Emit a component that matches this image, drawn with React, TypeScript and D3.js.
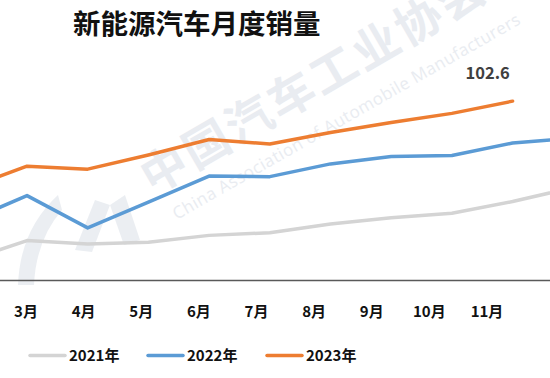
import React from "react";
import * as d3 from "d3";

const months = ["2月", "3月", "4月", "5月", "6月", "7月", "8月", "9月", "10月", "11月", "12月"];
const tickLabels = ["3月", "4月", "5月", "6月", "7月", "8月", "9月", "10月", "11月"];
const sales2021 = [11.0, 22.6, 20.6, 21.7, 25.6, 27.1, 32.1, 35.7, 38.3, 45.0, 53.1];
const sales2022 = [33.4, 48.4, 29.9, 44.7, 59.6, 59.3, 66.6, 70.8, 71.4, 78.6, 81.4];
const sales2023 = [52.5, 65.3, 63.6, 71.7, 80.6, 78.0, 84.6, 90.4, 95.6, 102.6];
const seriesNames = ["2021年", "2022年", "2023年"];
const seriesColors = ["#d4d4d4", "#5b9bd5", "#ed7d31"];
const title = "新能源汽车月度销量";

const W = 550;
const H = 378;
const FONT = "'Noto Sans CJK SC', 'Noto Sans', sans-serif";

export default function App() {
  const x = d3.scalePoint<string>().domain(months).range([-33.7, 573.3]);
  const xLabel = d3.scalePoint<string>().domain(tickLabels).range([26, 487]);
  const y = d3.scaleLinear().domain([0, 160]).range([280, 1.1]);
  const line = d3
    .line<number>()
    .x((_, i) => x(months[i]) as number)
    .y((d) => y(d));
  const all = [sales2021, sales2022, sales2023];
  const lastIdx = sales2023.length - 1;
  const lastVal = sales2023[lastIdx];
  const legendX = [30, 148, 267];

  return (
    <svg
      width={W}
      height={H}
      style={{ position: "absolute", left: 0, top: 0, background: "#fff" }}
      fontFamily={FONT}
    >
      <rect x={0} y={0} width={W} height={H} fill="#fff" />
      {/* watermark */}
      <g fill="#e9ecf1">
        <text
          transform="translate(312,79) rotate(-30.2)"
          textAnchor="middle"
          dominantBaseline="central"
          fontSize={46}
          fontWeight="bold"
          letterSpacing={3}
        >
          中国汽车工业协会
        </text>
        <text
          transform="translate(346,116) rotate(-29.7)"
          textAnchor="middle"
          dominantBaseline="central"
          fontSize={17}
          fontFamily="'Open Sans', sans-serif"
          textLength={397}
          lengthAdjust="spacing"
        >
          China Association of Automobile Manufacturers
        </text>
        <path
          d="M 58 195 Q 20 230 18 285 L 34 285 Q 36 240 62 210 Z"
          opacity={0.9}
        />
        <path d="M 75 250 L 95 200 L 110 205 L 92 252 Z" opacity={0.9} />
        <path d="M 110 205 L 125 195 L 140 240 L 124 245 Z" opacity={0.9} />
      </g>

      {/* title */}
      <text x={73} y={34} fontSize={27.5} fontWeight="bold" fill="#111">
        {title}
      </text>

      {/* axis line */}
      <line x1={0} x2={W} y1={280.5} y2={280.5} stroke="#595959" strokeWidth={1.5} />

      {/* lines */}
      {all.map((s, i) => (
        <path
          key={i}
          d={line(s) || ""}
          fill="none"
          stroke={seriesColors[i]}
          strokeWidth={3.5}
          strokeLinejoin="round"
          strokeLinecap="round"
        />
      ))}

      {/* data label */}
      <text
        x={(x(months[lastIdx]) as number) - 25}
        y={y(lastVal) - 22}
        textAnchor="middle"
        fontSize={16.5}
        fontWeight="bold"
        fill="#404040"
      >
        {lastVal.toFixed(1)}
      </text>

      {/* x tick labels */}
      {tickLabels.map((t) => (
        <text
          key={t}
          x={xLabel(t) as number}
          y={317}
          textAnchor="middle"
          fontSize={15}
          fontWeight="bold"
          fill="#111"
        >
          {t}
        </text>
      ))}

      {/* legend */}
      {seriesNames.map((n, i) => (
        <g key={n}>
          <line
            x1={legendX[i]}
            x2={legendX[i] + 35}
            y1={355.5}
            y2={355.5}
            stroke={seriesColors[i]}
            strokeWidth={3.5}
            strokeLinecap="round"
          />
          <text x={legendX[i] + 39} y={361} fontSize={15} fontWeight="bold" fill="#111">
            {n}
          </text>
        </g>
      ))}
    </svg>
  );
}
